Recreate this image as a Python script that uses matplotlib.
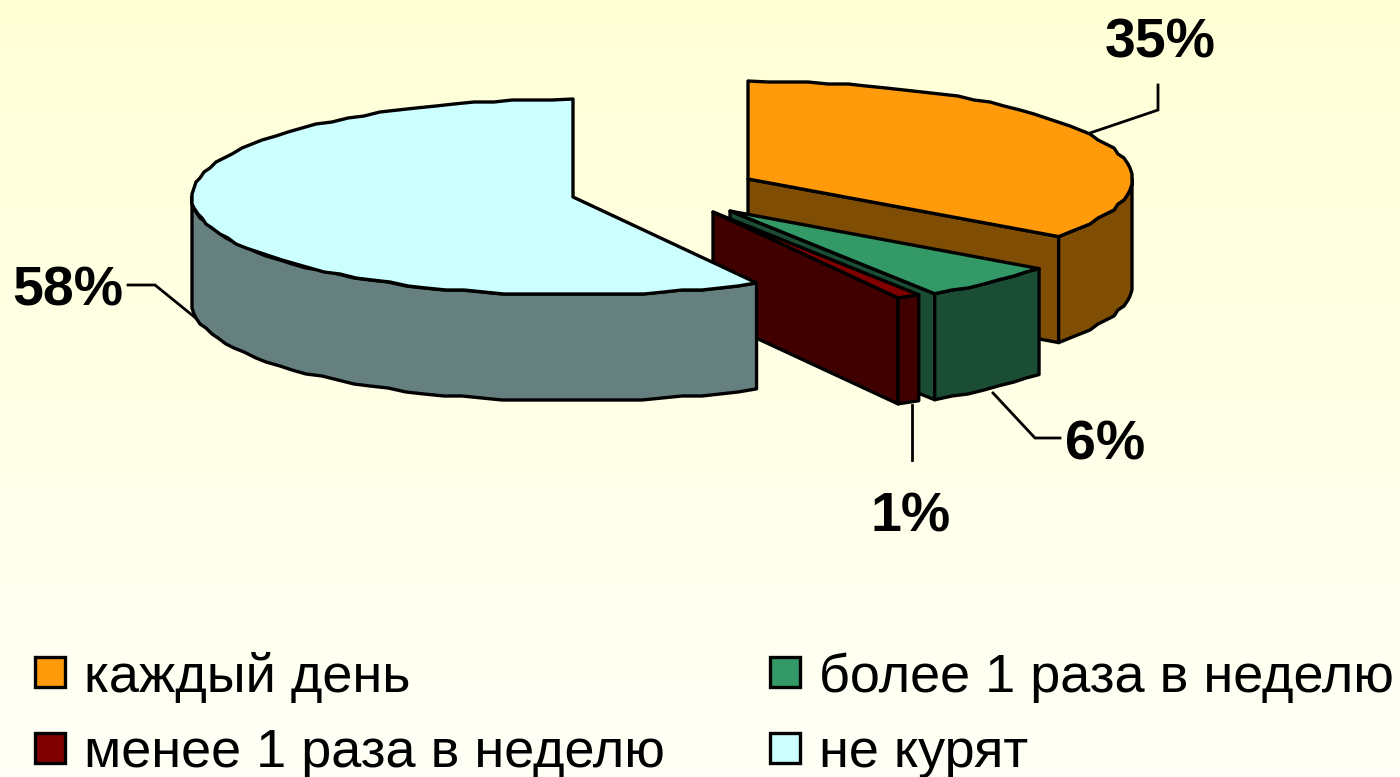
# -*-coding:utf-8 -*-
# 3D pie chart (cigarette use), drawn by hand because matplotlib has no 3D pie
import numpy as np
import matplotlib
matplotlib.use('Agg')
import matplotlib.pyplot as plt
from matplotlib.colors import LinearSegmentedColormap
from matplotlib.patches import Polygon, Rectangle

plt.rcParams['font.family'] = ['Liberation Sans', 'DejaVu Sans']

categories = ['каждый день', 'более 1 раза в неделю', 'менее 1 раза в неделю', 'не курят']
values = [35, 6, 1, 58]
top_colors = ['#FF9A0A', '#339966', '#800000', '#CCFFFF']
side_colors = ['#804D05', '#1A4D33', '#400000', '#668080']
# where the apex of every slice ended up after the explosion
apex_x = [748, 730, 713, 573]
apex_y = [179, 211, 212, 197]
radius_x = [384, 382, 384, 381]

RY, DEPTH = 98, 106
LW = 2.4

fig = plt.figure(figsize=(14, 7.77), dpi=100)
ax = fig.add_axes([0, 0, 1, 1])
bg = LinearSegmentedColormap.from_list('bg', ['#FFFFD6', '#FFFFF7'])
ax.imshow(np.linspace(0, 1, 256).reshape(-1, 1), cmap=bg, aspect='auto', extent=(0, 1400, 777, 0), zorder=0)
ax.set_xlim(0, 1400)
ax.set_ylim(777, 0)
ax.axis('off')


def rim(cx, cy, rx, a0, a1):
    # angle goes clockwise from 12 o'clock, the edge is a bit stepped like in the picture
    n = max(2, int(abs(a1 - a0) / 3.0) + 1)
    t = np.radians(np.linspace(a0, a1, n))
    x = cx + rx * np.sin(t)
    y = cy - RY * np.cos(t)
    x[1:-1] = np.round(x[1:-1] / 2) * 2
    y[1:-1] = np.round(y[1:-1] / 2) * 2
    return np.column_stack([x, y])


def poly(pts, color, z):
    ax.add_patch(Polygon(pts, closed=True, facecolor=color, edgecolor='black', linewidth=LW, joinstyle='round', zorder=z))


edges = np.concatenate([[0], np.cumsum(values)]) * 3.6
# blue has to go over the red cut face
order = [0, 1, 2, 3]
for z, i in enumerate(order):
    a0, a1 = edges[i], edges[i + 1]
    cx, cy, rx = apex_x[i], apex_y[i], radius_x[i]
    zz = 2 + z * 3
    # cut face at the end angle, only seen when it looks to the viewer
    if 90 < a1 < 270:
        end = rim(cx, cy, rx, a1, a1)[0]
        poly([(cx, cy), end, end + [0, DEPTH], (cx, cy + DEPTH)], side_colors[i], zz)
    # outer wall, only the front half
    b0, b1 = max(a0, 90), min(a1, 270)
    if b1 > b0:
        r = rim(cx, cy, rx, b0, b1)
        poly(np.vstack([r, r[::-1] + [0, DEPTH]]), side_colors[i], zz + 1)
    poly(np.vstack([[(cx, cy)], rim(cx, cy, rx, a0, a1)]), top_colors[i], zz + 2)

# data labels with leader lines
label_x = [1160, 1105, 911, 68]
label_y = [44, 445, 518, 291]
leader_x = [[1090, 1158, 1158], [993, 1035, 1060], [912, 912], [128, 155, 208]]
leader_y = [[133, 110, 85], [393, 438, 438], [405, 460], [285, 285, 328]]
for i in range(len(values)):
    ax.plot(leader_x[i], leader_y[i], color='black', lw=2, zorder=1, solid_joinstyle='miter')
    ax.text(label_x[i], label_y[i], '%d%%' % values[i], fontsize=40, fontweight='bold',
            ha='center', va='center', color='black', zorder=30)

# legend, 2 x 2
legend_x = [35, 770, 35, 770]
legend_y = [672, 672, 748, 748]
for i in range(len(categories)):
    ax.add_patch(Rectangle((legend_x[i], legend_y[i] - 15), 30, 30, facecolor=top_colors[i],
                           edgecolor='black', linewidth=LW, zorder=30))
    ax.text(legend_x[i] + 49, legend_y[i], categories[i], fontsize=39, ha='left',
            va='center_baseline', color='black', zorder=30)

fig.savefig('out.png', dpi=100)
